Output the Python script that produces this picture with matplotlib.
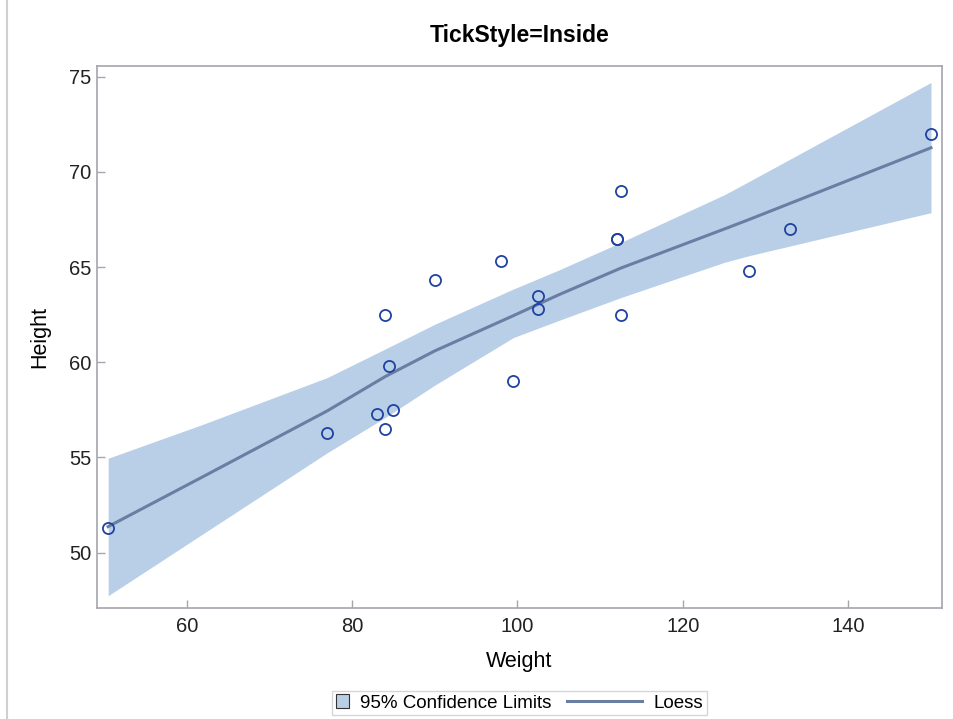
import numpy as np
import matplotlib.pyplot as plt
from matplotlib.patches import Patch
from matplotlib.lines import Line2D
from matplotlib.legend_handler import HandlerBase

plt.rcParams['font.family'] = ['Liberation Sans', 'DejaVu Sans']

# sashelp.class: weight / height
weight = [112.5, 84.0, 98.0, 102.5, 102.5, 83.0, 84.5, 112.5, 84.0, 99.5,
          50.5, 90.0, 77.0, 112.0, 150.0, 128.0, 133.0, 85.0, 112.0]
height = [69.0, 56.5, 65.3, 62.8, 63.5, 57.3, 59.8, 62.5, 62.5, 59.0,
          51.3, 64.3, 56.3, 66.5, 72.0, 64.8, 67.0, 57.5, 66.5]

# loess fit and 95% limits
fit_x = [50.5, 62.0, 77.0, 84.0, 90.0, 99.5, 105.0, 112.5, 125.0, 128.0, 150.0]
fit_y = [51.37, 54.0, 57.45, 59.25, 60.6, 62.45, 63.55, 64.95, 67.0, 67.5, 71.27]
upper = [54.96, 56.75, 59.2, 60.7, 62.0, 63.85, 64.85, 66.3, 68.8, 69.5, 74.7]
lower = [47.74, 51.0, 55.25, 57.1, 58.8, 61.3, 62.2, 63.4, 65.25, 65.6, 67.86]

band_color = '#b9cfe7'
line_color = '#6a7ea3'
marker_color = '#1f42a0'
frame_color = '#a3a6ab'


class LongLineHandler(HandlerBase):
    """legend line that reaches back into the column gap"""
    def __init__(self, extra):
        super().__init__()
        self.extra = extra

    def create_artists(self, legend, orig_handle, xdescent, ydescent,
                       width, height, fontsize, trans):
        y = height / 2 - ydescent
        x0 = -xdescent - self.extra * fontsize
        line = Line2D([x0, width - xdescent], [y, y], color=orig_handle.get_color(),
                      linewidth=orig_handle.get_linewidth(), transform=trans)
        return [line]


fig = plt.figure(figsize=(9.54, 7.19), dpi=100)
ax = fig.add_axes([0.1014, 0.1548, 0.886, 0.7538])

ax.fill_between(fit_x, lower, upper, color=band_color, linewidth=0, zorder=1)
ax.plot(fit_x, fit_y, color=line_color, linewidth=2.2, zorder=2)
ax.plot(weight, height, linestyle='none', marker='o', markersize=8,
        markerfacecolor='none', markeredgecolor=marker_color,
        markeredgewidth=1.3, zorder=3)

ax.set_xlim(49.12, 151.33)
ax.set_ylim(47.11, 75.58)
ax.set_xticks([60, 80, 100, 120, 140])
ax.set_yticks([50, 55, 60, 65, 70, 75])

for s in ax.spines.values():
    s.set_color(frame_color)
    s.set_linewidth(1.2)
ax.tick_params(direction='in', length=5.5, width=1, color=frame_color,
               labelsize=14.5, labelcolor='#222222', pad=4)
ax.tick_params(axis='x', pad=6.5)

ax.set_xlabel('Weight', fontsize=15.5, labelpad=11)
ax.set_ylabel('Height', fontsize=15.5, labelpad=13)
ax.set_title('TickStyle=Inside', fontsize=16.5, fontweight='bold', pad=17)

loess_handle = Line2D([0], [0], color=line_color, linewidth=2.2)
handles = [Patch(facecolor=band_color, edgecolor='#333333', linewidth=0.8),
           loess_handle]
fig.legend(handles, ['95% Confidence Limits', 'Loess'],
           handler_map={loess_handle: LongLineHandler(3.3)},
           loc='center', bbox_to_anchor=(0.5444, 0.0222), ncol=2,
           fontsize=13.5, frameon=True, fancybox=False, edgecolor='#cccccc',
           handlelength=0.7, handleheight=0.7, columnspacing=4.15,
           handletextpad=0.6, borderpad=0.2, borderaxespad=0)

# thin border on the left edge of the image
fig.add_artist(Line2D([0.0077, 0.0077], [0, 1], color='#d0d0d0', linewidth=1.5,
                      transform=fig.transFigure))

fig.savefig('out.png', dpi=100)
